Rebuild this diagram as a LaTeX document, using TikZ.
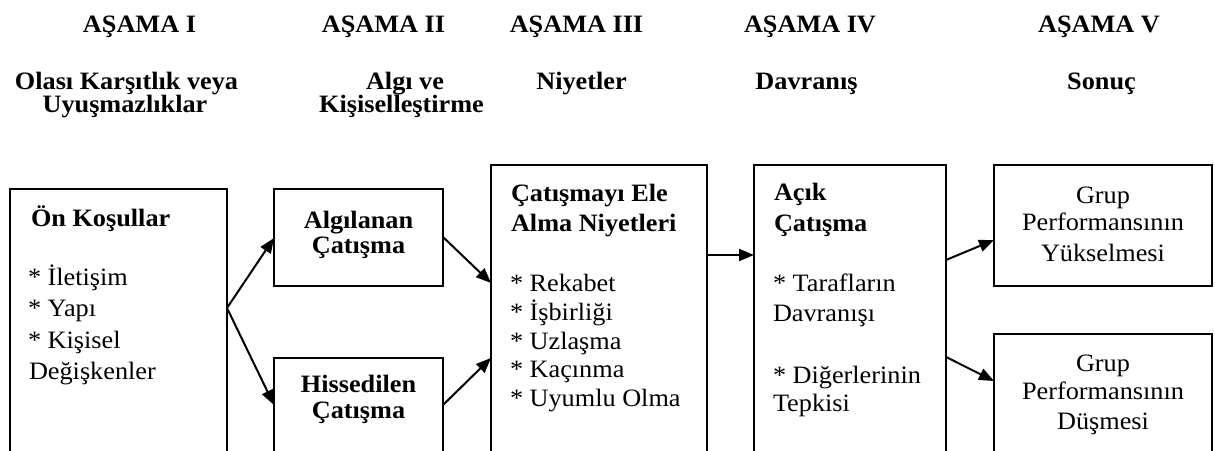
\documentclass[tikz,border=0pt]{standalone}
\usepackage{fontspec}
\setmainfont{Liberation Serif}[FakeStretch=1.05]
\usetikzlibrary{arrows.meta,calc}
\begin{document}
\begin{tikzpicture}[x=1bp,y=-1bp,
  box/.style={draw, line width=1.3bp, inner sep=0pt, outer sep=0pt, anchor=north west},
  link/.style={line width=2bp, -{Triangle[length=15bp,width=12bp]}},
  txt/.style={inner sep=0pt, outer sep=0pt, anchor=base, font=\fontsize{25bp}{29bp}\selectfont},
  ttl/.style={txt, font=\fontsize{25bp}{29bp}\selectfont\bfseries},
  lft/.style={anchor=base west}
]
\useasboundingbox (0,0) rectangle (1215,451);
\clip (0,0) rectangle (1215,451);

% stage headings
\node[ttl] (h1) at (139.5,32.3) {AŞAMA I};
\node[ttl] (h2) at (383.5,32.3) {AŞAMA II};
\node[ttl] (h3) at (576.5,32.3) {AŞAMA III};
\node[ttl] (h4) at (810,32.3) {AŞAMA IV};
\node[ttl] (h5) at (1099,32.3) {AŞAMA V};

% stage names
\node[ttl] (s1a) at (126.5,89.3) {Olası Karşıtlık veya};
\node[ttl] (s1b) at (125,112.7) {Uyuşmazlıklar};
\node[ttl] (s2a) at (405,89.3) {Algı ve};
\node[ttl] (s2b) at (401.5,112.7) {Kişiselleştirme};
\node[ttl] (s3) at (581.5,89.3) {Niyetler};
\node[ttl] (s4) at (806.5,89.3) {Davranış};
\node[ttl] (s5) at (1101.5,89.3) {Sonuç};

% boxes (open ones run past the lower edge)
\node[box, minimum width=217bp, minimum height=300bp] (b1) at (10,189) {};
\node[box, minimum width=169bp, minimum height=97bp] (b2a) at (274,189) {};
\node[box, minimum width=169bp, minimum height=130bp] (b2b) at (274,358) {};
\node[box, minimum width=216bp, minimum height=320bp] (b3) at (491,165) {};
\node[box, minimum width=192bp, minimum height=320bp] (b4) at (754,165) {};
\node[box, minimum width=218bp, minimum height=121bp] (b5a) at (994,165) {};
\node[box, minimum width=218bp, minimum height=150bp] (b5b) at (994,334) {};

% box 1
\node[ttl, lft] (t1) at (31,226.7) {Ön Koşullar};
\node[txt, lft] (l1a) at (28,286) {* İletişim};
\node[txt, lft] (l1b) at (28,317) {* Yapı};
\node[txt, lft] (l1c) at (28,348.5) {* Kişisel};
\node[txt, lft] (l1d) at (29,380) {Değişkenler};

% box 2
\node[ttl] (t2a) at (358.5,228.3) {Algılanan};
\node[ttl] (t2b) at (358.5,254) {Çatışma};
\node[ttl] (t2c) at (358.5,393) {Hissedilen};
\node[ttl] (t2d) at (358.5,419) {Çatışma};

% box 3
\node[ttl, lft] (t3a) at (511,201.7) {Çatışmayı Ele};
\node[ttl, lft] (t3b) at (511,231.7) {Alma Niyetleri};
\node[txt, lft] (l3a) at (510,291.7) {* Rekabet};
\node[txt, lft] (l3b) at (510,320.5) {* İşbirliği};
\node[txt, lft] (l3c) at (510,349.2) {* Uzlaşma};
\node[txt, lft] (l3d) at (510,378) {* Kaçınma};
\node[txt, lft] (l3e) at (510,406.7) {* Uyumlu Olma};

% box 4
\node[ttl, lft] (t4a) at (774,200.5) {Açık};
\node[ttl, lft] (t4b) at (774,231.7) {Çatışma};
\node[txt, lft] (l4a) at (773,291.7) {* Tarafların};
\node[txt, lft] (l4b) at (773,321.7) {Davranışı};
\node[txt, lft] (l4c) at (773,383.3) {* Diğerlerinin};
\node[txt, lft] (l4d) at (773,412) {Tepkisi};

% box 5
\node[txt] (t5a) at (1103,203.3) {Grup};
\node[txt] (t5b) at (1103,231) {Performansının};
\node[txt] (t5c) at (1103,261.5) {Yükselmesi};
\node[txt] (t5d) at (1103,371.7) {Grup};
\node[txt] (t5e) at (1103,400) {Performansının};
\node[txt] (t5f) at (1103,429.5) {Düşmesi};

% connector end points on the box edges
\coordinate (o1) at ($(b1.north east)+(0,119)$);
\coordinate (i2a) at ($(b2a.north west)+(0,49)$);
\coordinate (i2b) at ($(b2b.north west)+(0,47)$);
\coordinate (o2a) at ($(b2a.north east)+(0,48)$);
\coordinate (o2b) at ($(b2b.north east)+(0,47)$);
\coordinate (i3a) at ($(b3.north west)+(0,118)$);
\coordinate (i3b) at ($(b3.north west)+(0,193)$);
\coordinate (o3) at ($(b3.north east)+(0,90)$);
\coordinate (i4) at ($(b4.north west)+(0,90)$);
\coordinate (o4a) at ($(b4.north east)+(0,95)$);
\coordinate (o4b) at ($(b4.north east)+(0,192)$);
\coordinate (i5a) at ($(b5a.north west)+(0,75)$);
\coordinate (i5b) at ($(b5b.north west)+(0,47)$);

% connectors
\draw[link] (o1) -- (i2a);
\draw[link] (o1) -- (i2b);
\draw[link] (o2a) -- (i3a);
\draw[link] (o2b) -- (i3b);
\draw[link] (o3) -- (i4);
\draw[link] (o4a) -- (i5a);
\draw[link] (o4b) -- (i5b);
\end{tikzpicture}
\end{document}
